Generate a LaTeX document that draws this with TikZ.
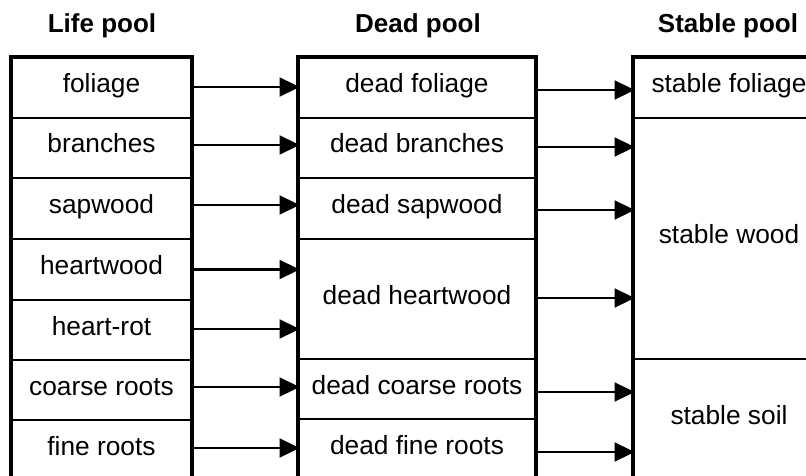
\documentclass[tikz,border=0pt]{standalone}
\usepackage{fontspec}
\setmainfont{Liberation Sans}
\usetikzlibrary{arrows.meta}

\tikzset{
  cell/.style={rectangle, draw, line width=2pt, inner sep=0pt,
    text height=10pt, text depth=0pt, font=\fontsize{26.3}{30}\selectfont},
  head/.style={anchor=base, inner sep=0pt, font=\fontsize{26}{30}\selectfont\bfseries},
  frame/.style={line width=4.5pt},
  flow/.style={line width=2.3pt, -{Triangle[length=20pt,width=19pt]}, shorten >=-1.5pt}
}

\begin{document}
\begin{tikzpicture}[x=1pt, y=-1pt]
\useasboundingbox (0,0) rectangle (806,476);
\clip (0,0) rectangle (806,476);

% column titles
\node[head] (hlife)   at (102,33) {Life pool};
\node[head] (hdead)   at (418,33) {Dead pool};
\node[head] (hstable) at (728,33) {Stable pool};

% living compartments
\node[cell, minimum width=179pt, minimum height=60pt] (l1) at (101.5,88)  {foliage};
\node[cell, minimum width=179pt, minimum height=60pt] (l2) at (101.5,148) {branches};
\node[cell, minimum width=179pt, minimum height=61pt] (l3) at (101.5,208.5) {sapwood};
\node[cell, minimum width=179pt, minimum height=61pt] (l4) at (101.5,269.5) {heartwood};
\node[cell, minimum width=179pt, minimum height=60pt] (l5) at (101.5,330) {heart-rot};
\node[cell, minimum width=179pt, minimum height=60pt] (l6) at (101.5,390) {coarse roots};
\node[cell, minimum width=179pt, minimum height=60pt] (l7) at (101.5,450) {fine roots};

% dead compartments
\node[cell, minimum width=236pt, minimum height=60pt]  (d1) at (417,88)  {dead foliage};
\node[cell, minimum width=236pt, minimum height=60pt]  (d2) at (417,148) {dead branches};
\node[cell, minimum width=236pt, minimum height=61pt]  (d3) at (417,208.5) {dead sapwood};
\node[cell, minimum width=236pt, minimum height=120pt] (d4) at (417,299) {dead heartwood};
\node[cell, minimum width=236pt, minimum height=60pt]  (d5) at (417,389) {dead coarse roots};
\node[cell, minimum width=236pt, minimum height=61pt]  (d6) at (417,449.5) {dead fine roots};

% stable compartments
\node[cell, minimum width=190pt, minimum height=60pt]  (s1) at (729,88)  {stable foliage};
\node[cell, minimum width=190pt, minimum height=241pt] (s2) at (729,238.5) {stable wood};
\node[cell, minimum width=190pt, minimum height=121pt] (s3) at (729,419.5) {stable soil};

% heavy outlines of the three pools
\draw[frame] (l1.north west) rectangle (l7.south east);
\draw[frame] (d1.north west) rectangle (d6.south east);
\draw[frame] (s1.north west) rectangle (s3.south east);

% transfers from living to dead
\draw[flow] ([yshift=1pt]l1.east) -- ([yshift=1pt]l1.east -| d1.west);
\draw[flow] ([yshift=3pt]l2.east) -- ([yshift=3pt]l2.east -| d2.west);
\draw[flow] ([yshift=3.5pt]l3.east) -- ([yshift=3.5pt]l3.east -| d3.west);
\draw[flow] (l4.east) -- (l4.east -| d4.west);
\draw[flow] ([yshift=1pt]l5.east) -- ([yshift=1pt]l5.east -| d4.west);
\draw[flow] ([yshift=3pt]l6.east) -- ([yshift=3pt]l6.east -| d5.west);
\draw[flow] ([yshift=2pt]l7.east) -- ([yshift=2pt]l7.east -| d6.west);

% transfers from dead to stable
\draw[flow] ([yshift=-2pt]d1.east) -- ([yshift=-2pt]d1.east -| s1.west);
\draw[flow] ([yshift=1pt]d2.east) -- ([yshift=1pt]d2.east -| s2.west);
\draw[flow] ([yshift=-1.5pt]d3.east) -- ([yshift=-1.5pt]d3.east -| s2.west);
\draw[flow] ([yshift=1pt]d4.east) -- ([yshift=1pt]d4.east -| s2.west);
\draw[flow] ([yshift=-3pt]d5.east) -- ([yshift=-3pt]d5.east -| s3.west);
\draw[flow] ([yshift=-2.5pt]d6.east) -- ([yshift=-2.5pt]d6.east -| s3.west);
\end{tikzpicture}
\end{document}
